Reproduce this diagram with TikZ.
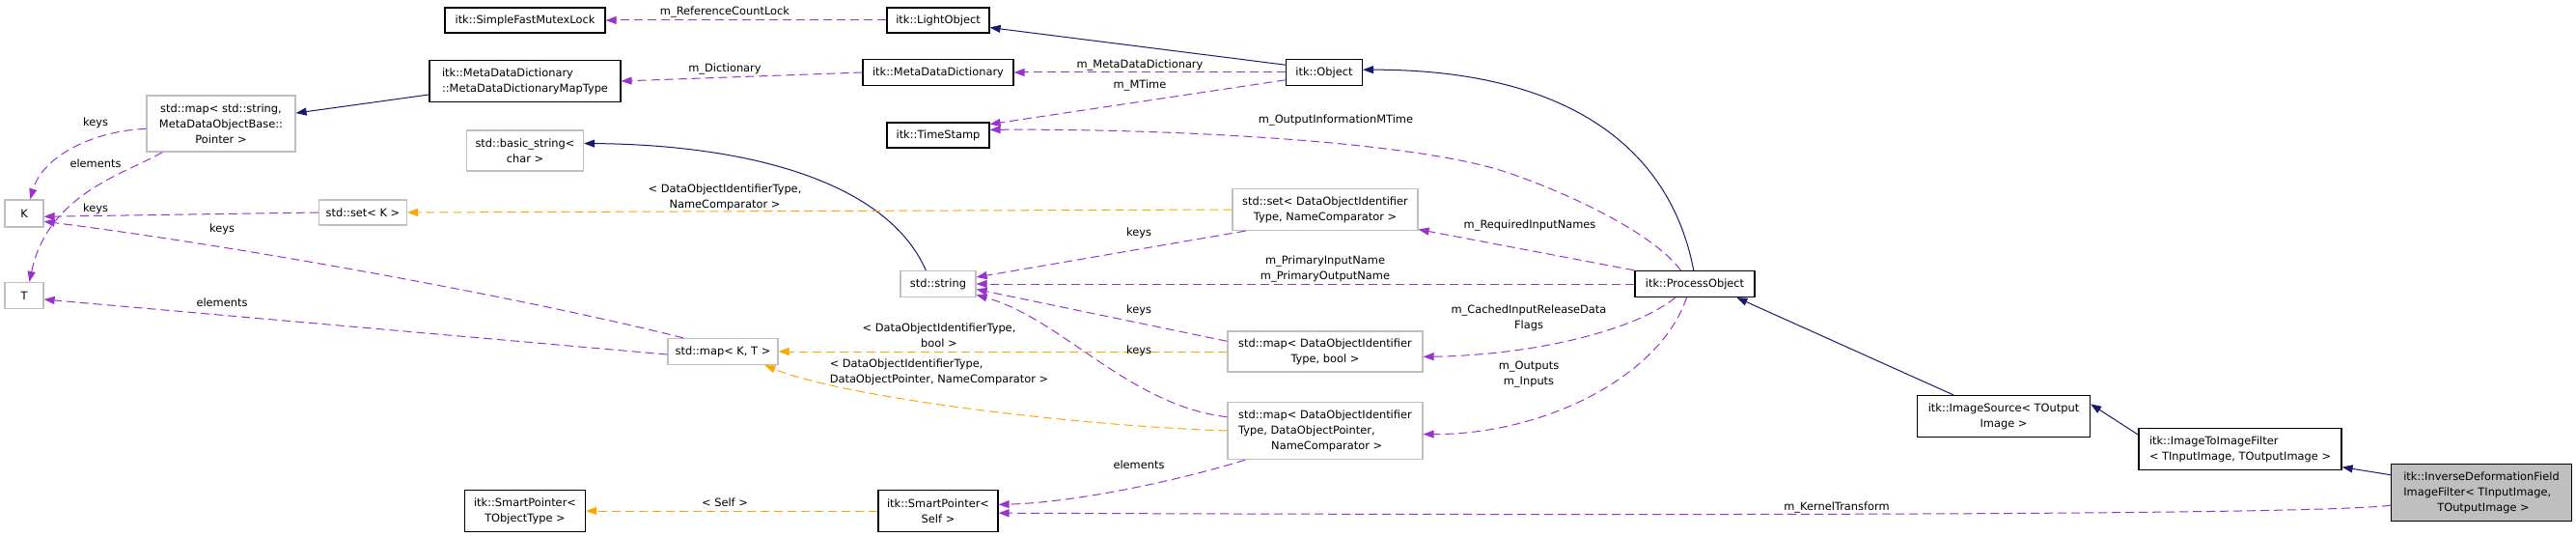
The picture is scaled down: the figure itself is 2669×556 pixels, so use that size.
\documentclass[tikz,border=0pt]{standalone}
\usepackage{fontspec}
\setmainfont{DejaVu Sans}
\usetikzlibrary{arrows.meta}
\definecolor{edgenavy}{HTML}{191970}
\definecolor{edgepurple}{HTML}{9A32CD}
\definecolor{edgeorange}{HTML}{FFA500}
\definecolor{boxgray}{HTML}{BFBFBF}

\begin{document}
\begin{tikzpicture}[x=1pt, y=-1pt,
    every node/.style={font=\fontsize{11.4}{16}\selectfont},
    cls/.style={draw=black, line width=1.2pt, fill=white, inner sep=2pt, align=center},
    ext/.style={draw=boxgray, line width=1.2pt, fill=white, inner sep=2pt, align=center},
    mainbox/.style={draw=black, line width=1.2pt, fill=boxgray, inner sep=2pt, align=center},
    sz/.style 2 args={minimum width=#1pt, minimum height=#2pt},
    lbl/.style={inner sep=0pt, align=center},
    inherit/.style={draw=edgenavy, line width=1pt, -{Triangle[length=11pt,width=8pt]}},
    usage/.style={draw=edgepurple, line width=1pt, dash pattern=on 9pt off 5pt, -{Triangle[length=11pt,width=8pt]}},
    tmplinst/.style={draw=edgeorange, line width=1pt, dash pattern=on 9pt off 5pt, -{Triangle[length=11pt,width=8pt]}}
  ]
    \useasboundingbox (0,0) rectangle (2669,556);

    % classes
    \node[cls, sz={166}{26}] (mutex) at (544,21) {itk::SimpleFastMutexLock};
    \node[cls, sz={198}{43}, align=left] (maptype) at (544,84) {itk::MetaDataDictionary\\::MetaDataDictionaryMapType};
    \node[ext, sz={154}{58}] (strmap) at (229,128) {std::map< std::string,\\MetaDataObjectBase::\\Pointer >};
    \node[ext, sz={121}{42}] (bstring) at (544,156) {std::basic\_string<\\char >};
    \node[ext, sz={40}{28}] (K) at (25,221) {K};
    \node[ext, sz={40}{27}] (T) at (25,306) {T};
    \node[ext, sz={91}{26}] (setK) at (376,220) {std::set< K >};
    \node[cls, sz={125}{43}] (sptobj) at (544,529) {itk::SmartPointer<\\TObjectType >};
    \node[cls, sz={106}{26}] (light) at (972,21) {itk::LightObject};
    \node[cls, sz={156}{27}] (mdd) at (972,75) {itk::MetaDataDictionary};
    \node[cls, sz={106}{26}] (tstamp) at (972,140) {itk::TimeStamp};
    \node[cls, sz={79}{27}] (object) at (1372,75) {itk::Object};
    \node[ext, sz={192}{43}] (setdoi) at (1373,217) {std::set< DataObjectIdentifier\\Type, NameComparator >};
    \node[ext, sz={78}{27}] (sstring) at (972,294) {std::string};
    \node[ext, sz={114}{27}] (mapKT) at (749,364) {std::map< K, T >};
    \node[ext, sz={202}{42}] (mapbool) at (1373,364) {std::map< DataObjectIdentifier\\Type, bool >};
    \node[ext, sz={202}{59}, align=left] (mapdop) at (1373,446) {std::map< DataObjectIdentifier\\Type, DataObjectPointer,\\\hspace*{34pt}NameComparator >};
    \node[cls, sz={124}{43}] (spself) at (972,529) {itk::SmartPointer<\\Self >};
    \node[cls, sz={124}{27}] (procobj) at (1756,294) {itk::ProcessObject};
    \node[cls, sz={179}{43}] (imgsrc) at (2076,431) {itk::ImageSource< TOutput\\Image >};
    \node[cls, sz={210}{43}, align=left] (i2i) at (2321,465) {itk::ImageToImageFilter\\< TInputImage, TOutputImage >};
    \node[mainbox, sz={187}{59}, align=left] (inv) at (2571,510) {itk::InverseDeformationField\\ImageFilter< TInputImage,\\\hspace*{35pt}TOutputImage >};

    % inheritance
    \draw[inherit] (object.169) -- (light.-8);
    \draw[inherit] (maptype.188) -- (strmap.8);
    \draw[inherit] (sstring.132) .. controls (920,190) and (780,150) .. (bstring.7);
    \draw[inherit] (procobj.95) .. controls (1730,150) and (1620,72) .. (object.4);
    \draw[inherit] (imgsrc.157) -- (procobj.-18);
    \draw[inherit] (i2i.172) -- (imgsrc.8);
    \draw[inherit] (inv.169) -- (i2i.-10);

    % members
    \draw[usage] (light.west) -- (mutex.east);
    \draw[usage] (mdd.west) -- (maptype.east);
    \draw[usage] (object.west) -- (mdd.east);
    \draw[usage] (object.191) -- (tstamp.12);
    \draw[usage] (procobj.136) .. controls (1712,240) and (1620,198) .. (1560,178)
                 .. controls (1460,145) and (1200,133) .. (tstamp.6);
    \draw[usage] (strmap.184) .. controls (100,135) and (45,160) .. (K.67);
    \draw[usage] (strmap.206) .. controls (130,180) and (50,200) .. (T.69);
    \draw[usage] (setK.west) -- (K.-9);
    \draw[usage] (mapKT.161) .. controls (550,310) and (250,255) .. (K.-22);
    \draw[usage] (mapKT.183) -- (T.-11);
    \draw[usage] (setdoi.195) -- (sstring.10);
    \draw[usage] (procobj.north west) -- (setdoi.-12);
    \draw[usage] (procobj.west) -- (sstring.east);
    \draw[usage] (procobj.215) .. controls (1690,345) and (1580,368) .. (mapbool.-3);
    \draw[usage] (procobj.239) .. controls (1720,390) and (1600,450) .. (mapdop.-2);
    \draw[usage] (mapbool.174) -- (sstring.-8);
    \draw[usage] (mapdop.172) .. controls (1170,420) and (1100,330) .. (sstring.-16);
    \draw[usage] (mapdop.200) .. controls (1230,495) and (1120,520) .. (spself.6);
    \draw[usage] (inv.188) .. controls (2380,535) and (1500,533) .. (spself.-2);

    % template instances
    \draw[tmplinst] (setdoi.west) -- (setK.east);
    \draw[tmplinst] (mapbool.west) -- (mapKT.east);
    \draw[tmplinst] (mapdop.west) .. controls (1100,440) and (870,410) .. (mapKT.-18);
    \draw[tmplinst] (spself.west) -- (sptobj.east);

    % edge labels
    \node[lbl] (lrefcnt) at (751,13) {m\_ReferenceCountLock};
    \node[lbl] (ldict) at (751,72) {m\_Dictionary};
    \node[lbl] (lmdd) at (1181,68) {m\_MetaDataDictionary};
    \node[lbl] (lmtime) at (1181,89) {m\_MTime};
    \node[lbl] (loutinfo) at (1384,125) {m\_OutputInformationMTime};
    \node[lbl] (lkeysa) at (99,127) {keys};
    \node[lbl] (lelema) at (99,169) {elements};
    \node[lbl] (lkeysb) at (99,216) {keys};
    \node[lbl] (lkeysc) at (230,237) {keys};
    \node[lbl] (lelemb) at (230,313) {elements};
    \node[lbl] (lsetinst) at (751,204) {< DataObjectIdentifierType,\\NameComparator >};
    \node[lbl] (lkeysd) at (1180,241) {keys};
    \node[lbl] (lreqin) at (1585,234) {m\_RequiredInputNames};
    \node[lbl] (lprim) at (1373,279) {m\_PrimaryInputName\\m\_PrimaryOutputName};
    \node[lbl] (lcached) at (1584,329) {m\_CachedInputReleaseData\\Flags};
    \node[lbl] (lports) at (1584,388) {m\_Outputs\\m\_Inputs};
    \node[lbl] (lkeyse) at (1180,321) {keys};
    \node[lbl] (lboolinst) at (973,347) {< DataObjectIdentifierType,\\bool >};
    \node[lbl, align=left] (ldopinst) at (973,385) {< DataObjectIdentifierType,\\DataObjectPointer, NameComparator >};
    \node[lbl] (lkeysf) at (1180,363) {keys};
    \node[lbl] (lelemc) at (1180,481) {elements};
    \node[lbl] (lselfinst) at (751,520) {< Self >};
    \node[lbl] (lkernel) at (1903,526) {m\_KernelTransform};
\end{tikzpicture}
\end{document}
